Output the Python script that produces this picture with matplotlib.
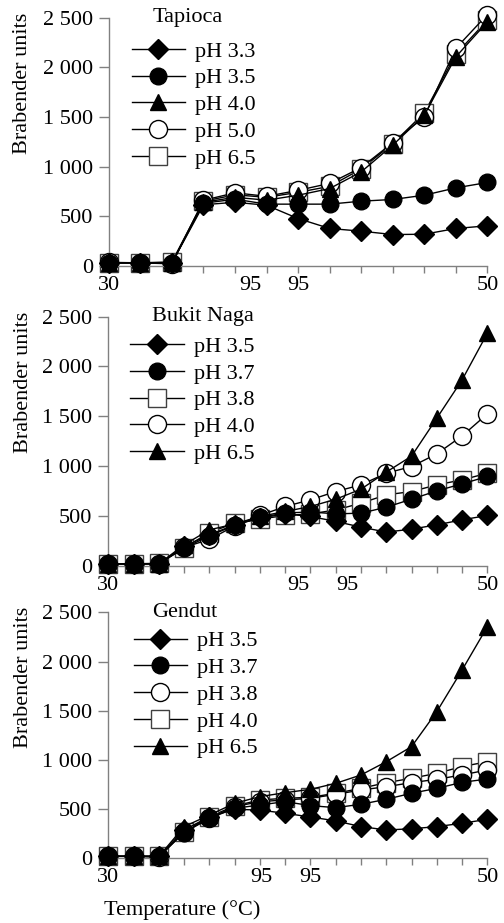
import matplotlib.pyplot as plt

plt.rcParams['font.family'] = ['Liberation Serif', 'DejaVu Serif']

# x positions are reading numbers (time steps)
x13 = list(range(13))
x16 = list(range(16))

# ---- Tapioca ----
tap_labels = ['pH 3.3', 'pH 3.5', 'pH 4.0', 'pH 5.0', 'pH 6.5']
tap_33 = [30, 30, 30, 615, 640, 610, 476, 376, 349, 315, 318, 376, 403]
tap_35 = [30, 30, 30, 630, 671, 621, 621, 621, 651, 668, 711, 785, 839]
tap_40 = [30, 30, 30, 640, 690, 661, 711, 778, 946, 1215, 1517, 2104, 2456]
tap_50 = [35, 30, 20, 660, 735, 700, 760, 830, 990, 1240, 1500, 2190, 2530]
tap_65 = [30, 30, 40, 650, 715, 690, 740, 800, 975, 1230, 1540, 2130, 2473]
tap_xt = [0, 4.5, 6, 12]

# ---- Bukit Naga ----
bn_labels = ['pH 3.5', 'pH 3.7', 'pH 3.8', 'pH 4.0', 'pH 6.5']
bn_35 = [20, 20, 20, 194, 311, 411, 478, 521, 495, 445, 388, 338, 368, 411, 461, 505]
bn_37 = [20, 20, 20, 177, 301, 405, 485, 530, 540, 521, 528, 588, 668, 752, 822, 896]
bn_38 = [20, 20, 25, 180, 334, 428, 468, 505, 521, 560, 628, 712, 745, 812, 862, 929]
bn_40 = [20, 20, 20, 185, 265, 400, 505, 595, 662, 745, 812, 929, 996, 1123, 1303, 1524]
bn_65 = [20, 20, 20, 211, 361, 420, 495, 545, 595, 668, 769, 940, 1100, 1481, 1865, 2333]
bn_xt = [0, 7.52, 9.44, 15]

# ---- Gendut ----
gd_labels = ['pH 3.5', 'pH 3.7', 'pH 3.8', 'pH 4.0', 'pH 6.5']
gd_35 = [20, 20, 20, 288, 423, 498, 490, 457, 420, 380, 322, 288, 300, 322, 356, 396]
gd_37 = [20, 20, 20, 261, 406, 508, 542, 576, 535, 515, 549, 600, 661, 711, 772, 806]
gd_38 = [20, 20, 10, 270, 406, 525, 576, 593, 610, 650, 694, 728, 769, 803, 847, 898]
gd_40 = [20, 20, 20, 271, 423, 532, 593, 610, 620, 661, 711, 769, 813, 864, 932, 982]
gd_65 = [20, 20, 20, 322, 440, 559, 627, 667, 701, 762, 847, 982, 1135, 1491, 1914, 2354]
gd_xt = [0, 6.06, 7.98, 15]

xt_text = ['30', '95', '95', '50']
yticks = [0, 500, 1000, 1500, 2000, 2500]
ytick_labels = ['0', '500', '1 000', '1 500', '2 000', '2 500']

FS = 16
diamond = dict(marker='D', ms=10, mfc='black', mec='black', zorder=5)
fcircle = dict(marker='o', ms=12, mfc='black', mec='black', zorder=4)
triangle = dict(marker='^', ms=12, mfc='black', mec='black', zorder=3)
ocircle = dict(marker='o', ms=13, mfc='white', mec='black', zorder=2)
osquare = dict(marker='s', ms=13, mfc='white', mec='#404040', zorder=1)

fig = plt.figure(figsize=(5.04, 9.23), dpi=100)
ax1 = fig.add_axes([0.216, 0.712, 0.751, 0.269])
ax2 = fig.add_axes([0.215, 0.387, 0.752, 0.270])
ax3 = fig.add_axes([0.215, 0.0701, 0.752, 0.2665])

panels = [
    (ax1, x13, [tap_33, tap_35, tap_40, tap_50, tap_65], tap_labels,
     [diamond, fcircle, triangle, ocircle, osquare], 'Tapioca', tap_xt,
     (0.06, 0.905), -0.203),
    (ax2, x16, [bn_35, bn_37, bn_38, bn_40, bn_65], bn_labels,
     [diamond, fcircle, osquare, ocircle, triangle], 'Bukit Naga', bn_xt,
     (0.058, 0.921), -0.198),
    (ax3, x16, [gd_35, gd_37, gd_38, gd_40, gd_65], gd_labels,
     [diamond, fcircle, ocircle, osquare, triangle], 'Gendut', gd_xt,
     (0.067, 0.925), -0.198),
]

for ax, xs, series, labels, styles, name, xt, leg_at, ylab_x in panels:
    for ys, lab, st in zip(series, labels, styles):
        ax.plot(xs, ys, color='black', lw=1.0, mew=1.0, clip_on=False,
                label=lab, **st)
    ax.set_xlim(0, xs[-1])
    ax.set_ylim(0, 2500)
    ax.set_yticks(yticks)
    ax.set_yticklabels(ytick_labels, fontsize=FS)
    # keep the "30"/"50" labels that sit on major tick positions
    ax.xaxis.remove_overlapping_locs = False
    ax.set_xticks(xs)
    ax.set_xticklabels([])
    ax.set_xticks(xt, minor=True)
    ax.set_xticklabels(xt_text, minor=True, fontsize=FS)
    ax.tick_params(axis='x', which='major', length=5, width=1, color='#808080')
    ax.tick_params(axis='x', which='minor', length=0, pad=7)
    ax.tick_params(axis='y', length=7.5, width=1, color='#808080', pad=4)
    ax.spines['top'].set_visible(False)
    ax.spines['right'].set_visible(False)
    for s in ['left', 'bottom']:
        ax.spines[s].set_color('#808080')
        ax.spines[s].set_linewidth(1.0)
    ax.set_ylabel('Brabender units', fontsize=FS)
    ax.yaxis.set_label_coords(ylab_x, 0.735)
    ax.text(0.115, 1.0, name, transform=ax.transAxes, fontsize=FS,
            ha='left', va='center')
    ax.legend(loc='upper left', bbox_to_anchor=leg_at, frameon=False,
              fontsize=FS, handlelength=2.4, handletextpad=0.45,
              labelspacing=0.28, borderpad=0, borderaxespad=0)

ax3.set_xlabel('Temperature (°C)', fontsize=FS)
ax3.xaxis.set_label_coords(0.195, -0.17)

plt.savefig('out.png', dpi=100)
